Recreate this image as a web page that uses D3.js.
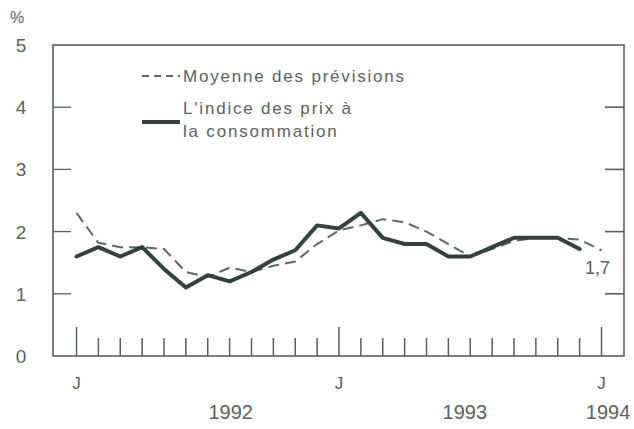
<!DOCTYPE html>
<html>
<head>
<meta charset="utf-8">
<script src="https://cdn.jsdelivr.net/npm/d3@7"></script>
<style>
  body { margin: 0; background: #fff; }
  text { font-family: "Liberation Sans", Arial, sans-serif; fill: #5c625e; }
</style>
</head>
<body>
<div id="chart"></div>
<script>
// month index 0 = janvier 1992
var cpiMonths = d3.range(0, 24);
var cpiValues = [1.6, 1.75, 1.6, 1.75, 1.4, 1.1, 1.3, 1.2, 1.35, 1.55, 1.7, 2.1,
                 2.05, 2.3, 1.9, 1.8, 1.8, 1.6, 1.6, 1.75, 1.9, 1.9, 1.9, 1.72];

var forecastMonths = d3.range(0, 25);
var forecastValues = [2.3, 1.82, 1.75, 1.75, 1.72, 1.35, 1.27, 1.42, 1.35, 1.45, 1.52, 1.8,
                      2.02, 2.1, 2.2, 2.15, 2.0, 1.8, 1.6, 1.72, 1.85, 1.9, 1.9, 1.87, 1.7];

var yTicks = [0, 1, 2, 3, 4, 5];
var monthLabels = [{m: 0, t: "J"}, {m: 12, t: "J"}, {m: 24, t: "J"}];
var yearLabels = [{m: 7.05, t: "1992"}, {m: 17.75, t: "1993"}, {m: 24.3, t: "1994"}];
var endLabel = "1,7";

var width = 634, height = 429;
var frame = {left: 53, right: 624, top: 45, bottom: 356};

var svg = d3.select("#chart")
            .append("svg")
            .attr("width", width)
            .attr("height", height);

var x = d3.scaleLinear()
    .domain([0, 24])
    .range([76.5, 601.5]);

var y = d3.scaleLinear()
    .domain([0, 5])
    .range([frame.bottom, frame.top]);

var frameColor = "#56615a";

// frame
svg.append("rect")
    .attr("x", frame.left)
    .attr("y", frame.top)
    .attr("width", frame.right - frame.left)
    .attr("height", frame.bottom - frame.top)
    .style("fill", "none")
    .style("stroke", frameColor)
    .style("stroke-width", 1.6);

// y ticks inside the frame, both sides
svg.selectAll("ytickL")
    .data(yTicks.slice(1, 5)).enter()
    .append("line")
    .attr("x1", frame.left).attr("x2", frame.left + 18)
    .attr("y1", function(d) { return y(d); })
    .attr("y2", function(d) { return y(d); })
    .style("stroke", frameColor)
    .style("stroke-width", 1.3);

svg.selectAll("ytickR")
    .data(yTicks.slice(1, 5)).enter()
    .append("line")
    .attr("x1", frame.right - 19).attr("x2", frame.right)
    .attr("y1", function(d) { return y(d); })
    .attr("y2", function(d) { return y(d); })
    .style("stroke", frameColor)
    .style("stroke-width", 1.6);

svg.selectAll("ylabel")
    .data(yTicks).enter()
    .append("text")
    .attr("x", 21)
    .attr("y", function(d) { return y(d) + 7; })
    .attr("text-anchor", "middle")
    .style("font-size", "19px")
    .text(function(d) { return d; });

svg.append("text")
    .attr("x", 17)
    .attr("y", 23)
    .attr("text-anchor", "middle")
    .style("font-size", "16px")
    .text("%");

// month ticks on the bottom axis
svg.selectAll("xtick")
    .data(d3.range(0, 25)).enter()
    .append("line")
    .attr("x1", function(d) { return x(d); })
    .attr("x2", function(d) { return x(d); })
    .attr("y1", frame.bottom)
    .attr("y2", function(d) { return d % 12 == 0 ? frame.bottom - 29 : frame.bottom - 18; })
    .style("stroke", frameColor)
    .style("stroke-width", 1.5);

svg.selectAll("mlabel")
    .data(monthLabels).enter()
    .append("text")
    .attr("x", function(d) { return x(d.m); })
    .attr("y", 389)
    .attr("text-anchor", "middle")
    .style("font-size", "17px")
    .text(function(d) { return d.t; });

svg.selectAll("yearlabel")
    .data(yearLabels).enter()
    .append("text")
    .attr("x", function(d) { return x(d.m); })
    .attr("y", 419)
    .attr("text-anchor", "middle")
    .style("font-size", "20px")
    .text(function(d) { return d.t; });

// series
var line = d3.line()
    .x(function(d) { return x(d[0]); })
    .y(function(d) { return y(d[1]); });

svg.append("path")
    .datum(d3.zip(forecastMonths, forecastValues))
    .attr("d", line)
    .style("fill", "none")
    .style("stroke", "#5e6b63")
    .style("stroke-width", 2)
    .style("stroke-dasharray", "11,6");

svg.append("path")
    .datum(d3.zip(cpiMonths, cpiValues))
    .attr("d", line)
    .style("fill", "none")
    .style("stroke", "#34433a")
    .style("stroke-width", 4)
    .style("stroke-linejoin", "round")
    .style("stroke-linecap", "round");

svg.append("text")
    .attr("x", x(24) - 4)
    .attr("y", 274)
    .attr("text-anchor", "middle")
    .style("font-size", "18px")
    .text(endLabel);

// legend
svg.append("line")
    .attr("x1", 142).attr("x2", 180)
    .attr("y1", 76).attr("y2", 76)
    .style("stroke", "#5e6b63")
    .style("stroke-width", 2)
    .style("stroke-dasharray", "7,5");

svg.append("text")
    .attr("x", 183)
    .attr("y", 82)
    .style("font-size", "17px")
    .style("letter-spacing", "1.8px")
    .text("Moyenne des prévisions");

svg.append("line")
    .attr("x1", 142).attr("x2", 180)
    .attr("y1", 122).attr("y2", 122)
    .style("stroke", "#34433a")
    .style("stroke-width", 4);

svg.append("text")
    .attr("x", 183)
    .attr("y", 114)
    .style("font-size", "17px")
    .style("letter-spacing", "1.8px")
    .text("L'indice des prix à");

svg.append("text")
    .attr("x", 183)
    .attr("y", 137)
    .style("font-size", "17px")
    .style("letter-spacing", "1.8px")
    .text("la consommation");
</script>
</body>
</html>
